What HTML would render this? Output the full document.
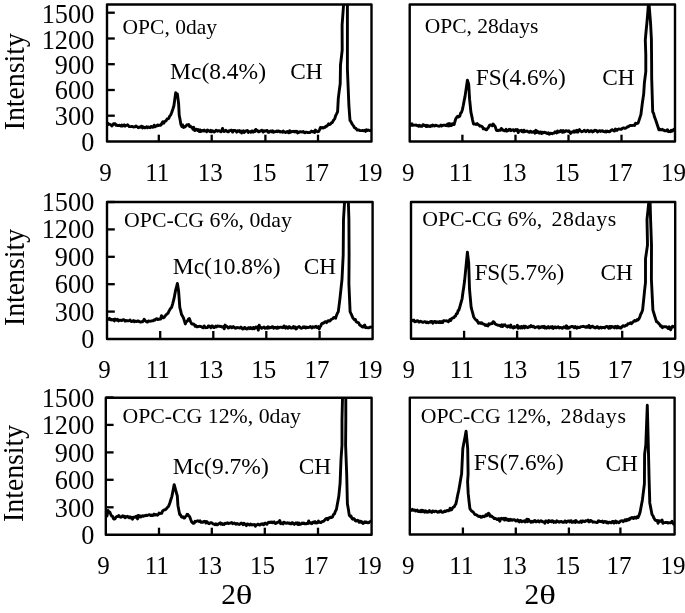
<!DOCTYPE html>
<html><head><meta charset="utf-8"><style>
html,body{margin:0;padding:0;background:#fff;width:685px;height:613px;overflow:hidden}
svg{display:block;will-change:transform;font-family:"Liberation Serif", serif;fill:#000}
</style></head><body>
<svg width="685" height="613" viewBox="0 0 685 613">
<rect width="685" height="613" fill="#fff"/>
<defs>
<clipPath id="c1"><rect x="107.0" y="4.5" width="264.5" height="137.0"/></clipPath>
<clipPath id="c2"><rect x="409.7" y="4.5" width="265.3" height="137.0"/></clipPath>
<clipPath id="c3"><rect x="107.0" y="202.0" width="265.6" height="137.0"/></clipPath>
<clipPath id="c4"><rect x="411.0" y="202.0" width="264.2" height="136.8"/></clipPath>
<clipPath id="c5"><rect x="105.8" y="397.7" width="265.8" height="137.0"/></clipPath>
<clipPath id="c6"><rect x="409.8" y="397.6" width="264.8" height="136.9"/></clipPath>
</defs>
<path d="M107.0,123.8 L107.8,123.2 L108.6,124.5 L109.4,124.1 L110.2,124.5 L111.0,124.8 L111.8,126.1 L112.7,125.1 L113.5,123.8 L114.3,123.7 L115.1,123.8 L115.9,125.3 L116.7,125.0 L117.5,125.5 L118.4,125.6 L119.2,125.2 L120.0,125.5 L120.9,126.1 L121.7,125.0 L122.6,126.1 L123.4,125.5 L124.2,124.9 L125.1,126.1 L125.9,125.4 L126.7,125.4 L127.6,124.8 L128.4,125.5 L129.2,126.6 L130.1,126.6 L130.9,126.6 L131.7,126.5 L132.5,126.5 L133.4,127.0 L134.2,126.9 L135.0,126.9 L135.9,126.0 L136.7,126.5 L137.5,126.9 L138.3,127.7 L139.2,127.3 L140.0,127.3 L140.8,126.6 L141.7,126.2 L142.5,128.0 L143.3,126.9 L144.2,127.8 L145.0,127.9 L145.8,127.2 L146.7,126.7 L147.5,127.8 L148.4,126.9 L149.2,127.4 L150.0,127.7 L150.9,126.5 L151.7,126.7 L152.5,127.4 L153.4,127.0 L154.2,125.2 L155.1,126.7 L155.9,126.1 L156.8,126.0 L157.6,125.0 L158.5,125.6 L159.3,125.1 L160.2,125.4 L161.0,125.0 L161.9,123.3 L162.8,121.7 L163.7,123.3 L164.6,121.5 L165.4,121.2 L166.2,120.7 L167.1,118.9 L167.9,118.8 L168.7,118.5 L169.7,116.1 L170.6,115.1 L171.6,112.7 L172.8,109.2 L173.9,105.7 L174.8,99.2 L175.7,92.8 L176.6,94.3 L177.4,94.0 L178.6,103.4 L179.2,115.0 L180.1,119.7 L180.9,124.4 L181.8,126.4 L182.6,124.9 L183.5,127.5 L184.4,126.8 L185.2,126.8 L186.1,125.7 L187.0,124.8 L187.9,125.1 L188.8,124.6 L189.6,126.5 L190.5,126.3 L191.3,127.1 L192.1,127.5 L192.9,129.2 L193.8,127.3 L194.7,130.6 L195.7,129.8 L196.6,129.2 L197.5,130.4 L198.3,129.5 L199.2,131.4 L200.0,129.9 L200.8,131.5 L201.7,130.6 L202.5,130.4 L203.3,131.0 L204.2,130.1 L205.0,131.1 L205.9,130.8 L206.7,131.6 L207.5,130.0 L208.4,130.6 L209.2,131.0 L210.0,131.6 L210.9,130.4 L211.7,131.7 L212.5,130.7 L213.4,131.4 L214.2,132.0 L215.0,131.5 L215.9,130.3 L216.7,130.4 L217.5,131.2 L218.4,130.7 L219.2,130.6 L220.0,131.2 L220.9,131.8 L221.7,131.1 L222.5,128.4 L223.4,130.7 L224.2,131.6 L225.0,131.1 L225.9,130.2 L226.7,131.0 L227.5,131.8 L228.4,131.9 L229.2,130.6 L230.0,130.7 L230.9,130.3 L231.7,130.2 L232.6,132.1 L233.4,130.4 L234.2,130.7 L235.1,130.4 L235.9,131.0 L236.7,132.1 L237.6,130.8 L238.4,131.3 L239.2,130.5 L240.1,132.0 L240.9,131.0 L241.7,132.9 L242.5,132.3 L243.4,130.8 L244.2,132.4 L245.0,131.8 L245.9,130.9 L246.7,131.1 L247.5,130.6 L248.3,132.4 L249.2,131.8 L250.0,131.5 L250.8,132.3 L251.7,131.0 L252.5,131.0 L253.3,132.1 L254.2,131.0 L255.0,131.4 L255.8,129.4 L256.7,130.7 L257.5,130.4 L258.3,131.7 L259.2,131.8 L260.0,131.0 L260.8,131.0 L261.6,130.2 L262.4,130.5 L263.2,132.1 L264.0,130.8 L264.8,131.3 L265.6,130.9 L266.4,130.6 L267.2,130.4 L268.0,132.2 L268.8,132.3 L269.6,132.0 L270.4,130.9 L271.2,130.9 L272.0,131.9 L272.8,130.8 L273.6,132.3 L274.4,131.8 L275.2,131.7 L276.0,131.5 L276.8,130.9 L277.6,131.7 L278.4,131.0 L279.2,131.2 L280.0,132.0 L280.8,131.5 L281.6,131.8 L282.4,132.2 L283.2,131.0 L284.0,132.0 L284.8,131.9 L285.6,132.5 L286.4,132.0 L287.2,131.5 L288.0,132.1 L288.8,132.8 L289.6,130.7 L290.4,132.3 L291.2,132.0 L292.0,131.4 L292.8,131.6 L293.6,131.3 L294.4,131.9 L295.2,131.2 L296.0,132.0 L296.8,131.3 L297.6,132.9 L298.4,132.6 L299.2,131.8 L300.0,132.0 L300.8,131.7 L301.6,132.0 L302.4,132.0 L303.3,131.4 L304.1,132.4 L304.9,132.8 L305.7,132.1 L306.5,132.2 L307.3,132.5 L308.1,132.5 L308.9,132.6 L309.8,132.6 L310.6,132.0 L311.4,131.1 L312.2,131.7 L313.0,132.0 L313.8,131.4 L314.6,132.5 L315.4,130.1 L316.3,131.0 L317.1,131.6 L317.9,131.7 L318.7,131.5 L319.5,129.8 L320.4,127.4 L321.3,128.0 L322.2,127.5 L323.2,128.1 L324.1,127.5 L325.0,127.4 L325.9,126.1 L326.8,126.3 L327.7,125.3 L328.6,123.9 L329.5,124.5 L330.4,124.2 L331.2,123.0 L332.1,122.7 L333.0,121.1 L333.8,119.9 L334.7,118.9 L335.7,115.5 L336.6,113.9 L337.6,111.6 L338.3,98.4 L339.2,91.1 L340.2,83.7 L340.5,64.7 L341.4,57.4 L342.2,50.0 L342.1,25.0 L343.6,4.5 L344.6,-12.8 L345.5,-30.0 L346.4,-12.8 L347.4,4.5 L347.4,69.0 L348.9,105.7 L350.0,120.4 L350.9,121.6 L351.9,123.7 L352.8,125.0 L353.7,126.2 L354.6,127.9 L355.5,128.1 L356.3,128.9 L357.2,130.0 L358.1,129.9 L358.9,130.0 L359.8,130.5 L360.6,130.6 L361.5,130.6 L362.3,130.5 L363.2,130.7 L364.0,130.6 L364.8,130.2 L365.6,131.4 L366.4,129.8 L367.2,130.6 L368.1,130.0 L368.9,130.4 L369.7,130.6 L370.5,130.5 L371.3,129.9" fill="none" stroke="#000" stroke-width="2.9" stroke-linejoin="round" clip-path="url(#c1)"/>
<rect x="107.0" y="4.5" width="264.5" height="137.0" fill="none" stroke="#000" stroke-width="2.4" stroke-linejoin="round"/>
<line x1="158.8" y1="141.5" x2="158.8" y2="134.7" stroke="#000" stroke-width="2.3"/>
<line x1="211.7" y1="141.5" x2="211.7" y2="134.7" stroke="#000" stroke-width="2.3"/>
<line x1="265.4" y1="141.5" x2="265.4" y2="134.7" stroke="#000" stroke-width="2.3"/>
<line x1="318.0" y1="141.5" x2="318.0" y2="134.7" stroke="#000" stroke-width="2.3"/>
<line x1="107.0" y1="115.7" x2="114.8" y2="115.7" stroke="#000" stroke-width="2.3"/>
<line x1="107.0" y1="90.0" x2="114.8" y2="90.0" stroke="#000" stroke-width="2.3"/>
<line x1="107.0" y1="64.2" x2="114.8" y2="64.2" stroke="#000" stroke-width="2.3"/>
<line x1="107.0" y1="38.5" x2="114.8" y2="38.5" stroke="#000" stroke-width="2.3"/>
<line x1="107.0" y1="12.7" x2="114.8" y2="12.7" stroke="#000" stroke-width="2.3"/>
<text x="94.3" y="151" text-anchor="end" font-size="26.3">0</text>
<text x="94.3" y="125" text-anchor="end" font-size="26.3">300</text>
<text x="94.3" y="99" text-anchor="end" font-size="26.3">600</text>
<text x="94.3" y="74" text-anchor="end" font-size="26.3">900</text>
<text x="94.3" y="49" text-anchor="end" font-size="26.3">1200</text>
<text x="94.3" y="23" text-anchor="end" font-size="26.3">1500</text>
<text transform="translate(24.2,81.75) rotate(-90) scale(0.925,1)" text-anchor="middle" font-size="30">Intensity</text>
<text x="105.5" y="181" text-anchor="middle" font-size="25">9</text>
<text x="157.3" y="181" text-anchor="middle" font-size="25">11</text>
<text x="210.2" y="181" text-anchor="middle" font-size="25">13</text>
<text x="263.9" y="181" text-anchor="middle" font-size="25">15</text>
<text x="316.5" y="181" text-anchor="middle" font-size="25">17</text>
<text x="370.0" y="181" text-anchor="middle" font-size="25">19</text>
<path d="M410.2,124.3 L411.1,125.3 L411.9,123.7 L412.8,125.3 L413.7,125.1 L414.5,125.1 L415.4,125.2 L416.3,125.0 L417.1,125.7 L418.0,125.4 L418.8,126.3 L419.6,125.3 L420.5,126.3 L421.3,126.3 L422.1,126.2 L422.9,124.8 L423.7,124.8 L424.6,125.5 L425.4,125.5 L426.2,126.5 L427.0,125.4 L427.8,126.4 L428.6,125.7 L429.5,126.3 L430.3,126.5 L431.1,125.6 L431.9,126.1 L432.7,125.1 L433.6,125.5 L434.4,126.1 L435.2,125.4 L436.0,125.2 L436.8,125.6 L437.6,125.8 L438.5,126.1 L439.3,126.2 L440.1,125.9 L440.9,125.0 L441.7,126.0 L442.6,125.4 L443.4,125.1 L444.2,125.3 L445.0,125.2 L445.9,125.5 L446.7,125.7 L447.5,124.1 L448.3,126.0 L449.2,123.5 L450.0,125.7 L450.8,124.1 L451.6,125.4 L452.5,123.8 L453.3,124.6 L454.1,124.5 L455.0,121.3 L455.8,118.8 L456.6,117.4 L457.7,116.2 L458.7,117.0 L459.8,116.1 L460.7,112.9 L461.5,112.4 L462.4,109.6 L463.3,105.3 L464.1,100.9 L465.0,96.6 L466.2,88.4 L467.4,80.2 L468.7,84.2 L469.6,99.2 L470.9,112.2 L471.8,116.1 L472.6,120.1 L473.5,124.0 L474.4,123.8 L475.3,124.2 L476.3,124.5 L477.2,123.6 L478.1,124.6 L479.1,125.2 L480.0,126.2 L480.8,126.0 L481.7,126.4 L482.5,127.0 L483.3,128.8 L484.1,128.4 L485.0,128.9 L485.8,129.7 L486.7,129.7 L487.7,128.2 L488.6,127.2 L489.6,125.2 L490.5,125.0 L491.4,124.9 L492.2,125.8 L493.1,124.1 L494.0,125.0 L495.2,126.6 L496.4,130.3 L497.2,130.5 L498.0,130.7 L498.8,130.1 L499.6,130.4 L500.4,130.3 L501.3,128.4 L502.1,129.3 L502.9,130.2 L503.7,130.1 L504.5,130.8 L505.3,130.9 L506.1,129.3 L506.9,131.1 L507.7,130.5 L508.5,130.6 L509.3,129.3 L510.1,129.5 L511.0,130.7 L511.8,129.9 L512.6,130.1 L513.4,129.7 L514.2,131.0 L515.0,130.3 L515.8,129.5 L516.6,130.4 L517.4,129.5 L518.2,132.6 L519.0,130.8 L519.8,130.7 L520.6,130.6 L521.4,130.2 L522.2,131.7 L523.0,132.0 L523.8,130.2 L524.6,131.8 L525.4,131.3 L526.2,131.3 L527.0,131.0 L527.8,131.5 L528.6,132.2 L529.4,132.4 L530.2,131.2 L531.0,131.4 L531.8,132.3 L532.6,132.0 L533.4,132.2 L534.3,131.3 L535.1,133.2 L535.9,130.3 L536.7,132.6 L537.6,131.4 L538.4,132.2 L539.2,133.2 L540.1,131.9 L540.9,131.9 L541.7,133.6 L542.5,132.3 L543.4,132.8 L544.2,132.1 L545.0,132.3 L545.9,132.6 L546.7,133.4 L547.5,133.5 L548.3,132.9 L549.2,134.3 L550.0,133.2 L550.8,133.5 L551.7,133.3 L552.5,133.7 L553.3,133.1 L554.2,133.0 L555.0,131.8 L555.8,132.0 L556.7,133.0 L557.5,130.9 L558.3,132.2 L559.2,131.9 L560.0,131.5 L560.8,130.5 L561.6,131.9 L562.4,132.3 L563.2,130.6 L564.0,132.0 L564.8,131.9 L565.7,130.8 L566.5,130.7 L567.3,131.2 L568.1,131.5 L568.9,130.7 L569.7,131.9 L570.5,133.4 L571.3,132.1 L572.1,132.0 L572.9,132.2 L573.7,130.9 L574.5,132.1 L575.3,130.7 L576.2,131.9 L577.0,130.3 L577.8,132.1 L578.6,130.5 L579.4,129.6 L580.2,130.9 L581.0,131.1 L581.8,131.8 L582.6,131.4 L583.5,131.2 L584.3,130.3 L585.1,130.7 L585.9,131.7 L586.7,130.9 L587.5,130.3 L588.4,130.9 L589.2,131.8 L590.0,131.4 L590.8,130.6 L591.6,130.6 L592.5,132.0 L593.3,131.7 L594.1,130.8 L594.9,130.3 L595.7,130.4 L596.6,130.7 L597.4,131.9 L598.2,131.4 L599.0,130.8 L599.8,130.6 L600.7,131.5 L601.5,130.8 L602.3,130.6 L603.1,131.4 L603.9,131.7 L604.7,131.9 L605.6,131.1 L606.4,132.0 L607.2,131.1 L608.0,131.5 L608.8,131.7 L609.7,131.7 L610.5,130.9 L611.3,130.2 L612.1,129.7 L612.9,130.0 L613.8,130.9 L614.6,131.0 L615.4,129.0 L616.2,129.5 L617.0,130.4 L617.8,129.4 L618.7,128.9 L619.5,129.1 L620.3,129.2 L621.2,129.3 L622.2,128.5 L623.1,127.9 L624.1,128.0 L625.0,128.4 L625.9,127.9 L626.7,127.4 L627.6,126.8 L628.5,126.7 L629.3,126.0 L630.2,125.4 L631.0,125.5 L631.9,125.6 L632.8,125.4 L633.7,125.1 L634.6,125.4 L635.5,123.2 L636.4,123.7 L637.3,123.4 L638.2,122.9 L639.1,120.1 L640.0,117.4 L640.9,114.6 L642.3,103.5 L643.7,93.8 L644.4,82.7 L645.8,71.6 L645.8,55.0 L645.3,40.0 L646.1,31.0 L647.0,22.0 L647.9,11.0 L648.7,0.0 L649.6,11.0 L650.5,22.0 L651.4,39.0 L651.6,60.0 L651.7,78.5 L652.7,111.8 L653.6,113.4 L654.5,117.0 L655.3,118.9 L656.2,121.5 L657.1,124.3 L658.0,127.0 L658.9,129.8 L659.8,129.2 L660.6,129.9 L661.5,129.9 L662.3,129.3 L663.2,130.2 L664.0,130.1 L664.9,130.8 L665.7,130.8 L666.6,130.5 L667.5,129.7 L668.4,131.7 L669.4,131.5 L670.3,131.7 L671.2,130.2 L672.1,131.2 L673.1,130.0 L674.0,129.2 L675.0,130.5" fill="none" stroke="#000" stroke-width="2.9" stroke-linejoin="round" clip-path="url(#c2)"/>
<rect x="409.7" y="4.5" width="265.3" height="137.0" fill="none" stroke="#000" stroke-width="2.4" stroke-linejoin="round"/>
<line x1="462.4" y1="141.5" x2="462.4" y2="134.7" stroke="#000" stroke-width="2.3"/>
<line x1="515.5" y1="141.5" x2="515.5" y2="134.7" stroke="#000" stroke-width="2.3"/>
<line x1="568.5" y1="141.5" x2="568.5" y2="134.7" stroke="#000" stroke-width="2.3"/>
<line x1="621.5" y1="141.5" x2="621.5" y2="134.7" stroke="#000" stroke-width="2.3"/>
<text x="408.2" y="181" text-anchor="middle" font-size="25">9</text>
<text x="460.9" y="181" text-anchor="middle" font-size="25">11</text>
<text x="514.0" y="181" text-anchor="middle" font-size="25">13</text>
<text x="567.0" y="181" text-anchor="middle" font-size="25">15</text>
<text x="620.0" y="181" text-anchor="middle" font-size="25">17</text>
<text x="673.5" y="181" text-anchor="middle" font-size="25">19</text>
<path d="M107.0,319.6 L107.8,319.1 L108.6,319.4 L109.4,318.3 L110.2,319.7 L111.0,319.2 L111.8,320.0 L112.7,319.7 L113.5,319.5 L114.3,320.9 L115.1,319.1 L115.9,319.5 L116.7,320.2 L117.5,319.3 L118.4,320.9 L119.2,320.5 L120.0,320.1 L120.9,320.3 L121.7,320.6 L122.6,319.8 L123.4,319.6 L124.2,320.1 L125.1,321.2 L125.9,320.5 L126.7,320.9 L127.6,320.6 L128.4,320.8 L129.2,320.6 L130.1,320.0 L130.9,321.3 L131.7,321.5 L132.5,321.3 L133.4,320.5 L134.2,321.7 L135.0,321.0 L135.9,321.5 L136.7,321.6 L137.5,320.9 L138.3,320.9 L139.2,321.7 L140.0,322.0 L140.8,322.1 L141.7,321.6 L142.5,321.8 L143.3,321.2 L144.2,319.2 L145.0,320.5 L145.8,321.2 L146.7,321.9 L147.5,322.1 L148.4,320.9 L149.2,321.1 L150.0,321.2 L150.9,321.1 L151.7,320.8 L152.6,320.6 L153.4,320.8 L154.3,319.8 L155.2,320.0 L156.1,318.8 L156.9,318.6 L157.8,319.6 L158.7,319.1 L159.6,319.2 L160.6,319.0 L161.5,315.7 L162.5,317.6 L163.4,317.9 L164.3,317.1 L165.3,315.7 L166.2,314.8 L167.2,313.7 L168.1,313.2 L169.0,311.0 L169.8,309.7 L170.7,308.3 L171.6,307.4 L172.8,303.3 L173.9,299.2 L174.8,294.5 L175.7,289.9 L176.6,286.6 L177.4,283.4 L178.6,291.0 L179.8,307.4 L180.7,310.9 L181.5,314.4 L182.5,316.1 L183.5,318.0 L184.4,320.9 L185.3,323.9 L186.1,322.0 L186.9,321.4 L187.7,320.6 L188.5,319.0 L189.3,318.6 L190.5,321.6 L191.7,323.9 L192.5,324.2 L193.4,324.0 L194.2,324.5 L195.0,326.2 L195.8,325.5 L196.7,326.7 L197.5,326.8 L198.3,326.5 L199.2,326.4 L200.0,326.3 L200.8,326.6 L201.7,326.6 L202.5,327.6 L203.3,327.8 L204.2,325.9 L205.0,327.3 L205.8,327.7 L206.7,327.6 L207.5,327.5 L208.3,326.0 L209.2,325.9 L210.0,326.8 L210.8,327.6 L211.7,325.9 L212.5,326.0 L213.3,327.3 L214.2,327.6 L215.0,326.8 L215.8,326.1 L216.7,326.9 L217.5,326.0 L218.4,326.2 L219.2,326.2 L220.0,326.5 L220.9,326.3 L221.7,327.0 L222.5,326.9 L223.4,326.6 L224.2,328.8 L225.1,325.1 L225.9,326.3 L226.7,326.3 L227.6,327.3 L228.4,328.1 L229.2,327.5 L230.1,326.7 L230.9,326.6 L231.8,327.8 L232.6,327.4 L233.4,326.6 L234.3,327.3 L235.1,328.1 L235.9,328.2 L236.7,327.5 L237.6,327.7 L238.4,327.6 L239.2,327.8 L240.1,328.0 L240.9,327.1 L241.7,327.9 L242.5,329.0 L243.4,328.9 L244.2,327.7 L245.0,327.5 L245.9,328.6 L246.7,329.0 L247.5,328.9 L248.3,327.7 L249.2,327.6 L250.0,328.6 L250.8,327.6 L251.7,328.7 L252.5,328.9 L253.3,327.4 L254.2,328.8 L255.0,328.2 L255.8,327.0 L256.7,327.8 L257.5,326.9 L258.3,330.2 L259.2,325.3 L260.0,327.4 L260.8,327.3 L261.6,328.3 L262.4,327.6 L263.2,327.5 L264.0,327.1 L264.8,328.2 L265.6,328.3 L266.4,327.5 L267.2,328.2 L268.0,326.7 L268.8,328.1 L269.6,327.3 L270.4,327.7 L271.2,327.5 L272.0,326.6 L272.8,326.6 L273.6,328.2 L274.4,327.4 L275.2,327.7 L276.0,327.5 L276.8,328.3 L277.6,326.9 L278.4,327.9 L279.2,327.4 L280.0,327.3 L280.8,327.3 L281.6,327.1 L282.4,327.7 L283.2,327.5 L284.0,325.9 L284.8,327.1 L285.6,328.2 L286.4,326.8 L287.2,327.7 L288.0,328.2 L288.8,326.8 L289.6,326.8 L290.4,327.7 L291.2,328.1 L292.0,328.0 L292.8,327.1 L293.6,326.5 L294.4,328.0 L295.2,327.0 L296.0,328.9 L296.8,328.4 L297.6,327.4 L298.4,326.8 L299.2,326.5 L300.0,327.3 L300.8,328.1 L301.6,328.2 L302.4,327.8 L303.2,326.8 L304.0,327.5 L304.8,326.8 L305.6,328.1 L306.4,327.3 L307.2,327.2 L308.0,327.6 L308.8,327.3 L309.6,327.4 L310.4,326.5 L311.2,327.4 L312.0,328.0 L312.8,326.8 L313.6,327.3 L314.4,327.4 L315.2,326.7 L316.0,326.2 L316.8,327.6 L317.6,327.5 L318.4,326.6 L319.2,329.0 L320.0,327.0 L320.8,325.9 L321.6,323.8 L322.4,323.2 L323.2,323.3 L324.0,322.6 L324.9,321.9 L325.7,321.6 L326.5,322.6 L327.3,321.8 L328.1,320.7 L328.9,320.7 L329.7,321.1 L330.5,320.2 L331.3,319.3 L332.1,319.1 L333.0,318.6 L333.8,317.4 L334.7,317.4 L335.6,318.2 L336.5,315.4 L337.4,313.2 L338.3,311.6 L339.8,299.9 L340.9,289.6 L342.0,279.3 L343.2,255.0 L343.5,219.5 L344.5,203.0 L345.5,176.5 L346.5,150.0 L347.4,176.5 L348.4,203.0 L348.9,219.5 L349.1,255.0 L348.9,283.7 L350.1,311.6 L351.0,313.7 L351.9,315.6 L352.8,317.8 L353.7,318.9 L354.5,319.9 L355.4,319.6 L356.2,321.8 L357.1,322.3 L357.9,322.5 L358.8,323.0 L359.6,324.8 L360.4,325.5 L361.3,325.8 L362.1,326.8 L363.0,327.0 L363.8,326.0 L364.7,325.0 L365.5,327.7 L366.3,327.2 L367.1,327.7 L367.9,327.9 L368.8,327.8 L369.6,327.2 L370.4,327.2 L371.2,327.1 L372.0,326.2" fill="none" stroke="#000" stroke-width="2.9" stroke-linejoin="round" clip-path="url(#c3)"/>
<rect x="107.0" y="202.0" width="265.6" height="137.0" fill="none" stroke="#000" stroke-width="2.4" stroke-linejoin="round"/>
<line x1="160.2" y1="339.0" x2="160.2" y2="331.0" stroke="#000" stroke-width="2.3"/>
<line x1="213.3" y1="339.0" x2="213.3" y2="331.0" stroke="#000" stroke-width="2.3"/>
<line x1="266.3" y1="339.0" x2="266.3" y2="331.0" stroke="#000" stroke-width="2.3"/>
<line x1="319.6" y1="339.0" x2="319.6" y2="331.0" stroke="#000" stroke-width="2.3"/>
<line x1="107.0" y1="311.6" x2="114.8" y2="311.6" stroke="#000" stroke-width="2.3"/>
<line x1="107.0" y1="284.2" x2="114.8" y2="284.2" stroke="#000" stroke-width="2.3"/>
<line x1="107.0" y1="256.8" x2="114.8" y2="256.8" stroke="#000" stroke-width="2.3"/>
<line x1="107.0" y1="229.4" x2="114.8" y2="229.4" stroke="#000" stroke-width="2.3"/>
<line x1="107.0" y1="202.0" x2="114.8" y2="202.0" stroke="#000" stroke-width="2.3"/>
<text x="94.3" y="348" text-anchor="end" font-size="26.3">0</text>
<text x="94.3" y="321" text-anchor="end" font-size="26.3">300</text>
<text x="94.3" y="293" text-anchor="end" font-size="26.3">600</text>
<text x="94.3" y="266" text-anchor="end" font-size="26.3">900</text>
<text x="94.3" y="238" text-anchor="end" font-size="26.3">1200</text>
<text x="94.3" y="211" text-anchor="end" font-size="26.3">1500</text>
<text transform="translate(24.2,277.50) rotate(-90) scale(0.925,1)" text-anchor="middle" font-size="30">Intensity</text>
<text x="104.5" y="378" text-anchor="middle" font-size="25">9</text>
<text x="157.7" y="378" text-anchor="middle" font-size="25">11</text>
<text x="210.8" y="378" text-anchor="middle" font-size="25">13</text>
<text x="263.8" y="378" text-anchor="middle" font-size="25">15</text>
<text x="317.1" y="378" text-anchor="middle" font-size="25">17</text>
<text x="370.1" y="378" text-anchor="middle" font-size="25">19</text>
<path d="M411.5,320.8 L412.3,320.3 L413.1,320.7 L413.9,320.1 L414.8,321.9 L415.6,321.7 L416.4,321.3 L417.2,320.6 L418.0,320.8 L418.9,322.1 L419.7,322.1 L420.5,321.2 L421.3,321.6 L422.1,322.1 L422.9,322.4 L423.8,321.9 L424.6,321.8 L425.4,321.7 L426.2,322.7 L427.0,322.0 L427.9,322.7 L428.7,322.7 L429.5,322.0 L430.3,322.2 L431.1,321.4 L432.0,321.4 L432.8,323.2 L433.6,322.5 L434.4,321.5 L435.2,321.4 L436.1,322.6 L436.9,321.7 L437.7,322.4 L438.5,322.5 L439.3,321.6 L440.1,322.7 L441.0,321.5 L441.8,322.6 L442.6,322.6 L443.4,320.7 L444.2,320.7 L445.0,320.9 L445.8,320.9 L446.7,320.8 L447.5,321.3 L448.3,321.7 L449.1,320.8 L449.9,319.4 L450.7,320.5 L451.6,318.7 L452.4,318.0 L453.2,317.9 L454.0,317.6 L454.8,316.1 L455.6,316.1 L456.4,313.8 L457.3,313.5 L458.1,310.6 L458.9,310.2 L459.7,307.4 L460.5,304.5 L461.3,301.6 L462.1,298.8 L462.9,292.8 L463.8,286.8 L464.6,280.8 L465.4,272.7 L466.4,262.4 L467.4,252.2 L468.7,262.9 L469.5,289.0 L470.3,297.9 L471.1,306.9 L471.9,310.2 L472.8,313.4 L473.6,316.7 L474.4,318.0 L475.2,319.1 L476.1,320.2 L476.9,320.2 L477.7,321.8 L478.5,323.3 L480.0,322.7 L480.9,323.4 L481.8,322.8 L482.6,323.8 L483.5,324.0 L484.4,324.4 L485.2,325.4 L486.1,324.7 L487.0,325.6 L487.9,325.9 L488.8,323.8 L489.6,324.4 L490.5,323.7 L491.4,323.7 L492.2,323.5 L493.1,321.7 L494.0,322.1 L494.9,323.6 L495.8,324.4 L496.6,324.6 L497.5,325.0 L498.3,325.4 L499.2,325.3 L500.0,325.7 L500.8,326.3 L501.7,324.7 L502.5,326.6 L503.3,324.9 L504.2,325.2 L505.0,324.8 L505.8,326.1 L506.7,326.1 L507.5,327.0 L508.3,325.8 L509.2,326.1 L510.0,327.3 L510.8,325.1 L511.7,327.2 L512.5,327.2 L513.3,328.0 L514.2,326.4 L515.0,327.4 L515.8,326.6 L516.6,326.9 L517.4,325.2 L518.2,328.3 L519.0,327.8 L519.8,326.7 L520.6,328.1 L521.4,326.4 L522.2,327.9 L523.0,327.0 L523.8,326.1 L524.6,327.9 L525.4,326.3 L526.2,326.8 L527.0,327.4 L527.8,327.7 L528.6,326.9 L529.4,326.5 L530.2,326.9 L531.0,325.5 L531.8,326.4 L532.6,326.8 L533.4,326.2 L534.3,327.3 L535.1,327.7 L535.9,327.1 L536.7,327.0 L537.6,327.2 L538.4,326.5 L539.2,328.0 L540.1,326.9 L540.9,327.4 L541.7,326.7 L542.5,326.5 L543.4,327.5 L544.2,326.4 L545.0,328.0 L545.9,327.0 L546.7,328.1 L547.5,327.4 L548.3,326.5 L549.2,328.0 L550.0,327.4 L550.8,326.8 L551.7,327.7 L552.5,326.6 L553.3,328.4 L554.2,327.4 L555.0,326.8 L555.8,327.7 L556.7,327.8 L557.5,326.9 L558.3,326.8 L559.2,327.9 L560.0,327.4 L560.8,327.5 L561.6,328.0 L562.4,328.3 L563.2,327.3 L564.0,326.9 L564.8,327.3 L565.6,328.0 L566.4,325.8 L567.2,328.3 L568.0,327.1 L568.8,328.2 L569.6,327.3 L570.4,327.3 L571.2,326.5 L572.0,326.5 L572.8,326.4 L573.6,327.5 L574.4,327.8 L575.2,326.4 L576.0,327.8 L576.8,328.2 L577.6,326.9 L578.4,327.6 L579.2,327.6 L580.0,327.3 L580.8,326.6 L581.6,326.6 L582.4,326.5 L583.2,326.3 L584.0,326.6 L584.8,326.7 L585.6,327.3 L586.4,326.6 L587.2,327.3 L588.0,326.9 L588.8,325.4 L589.6,327.7 L590.4,327.9 L591.2,326.5 L592.0,326.3 L592.8,326.3 L593.6,327.4 L594.4,327.2 L595.2,328.0 L596.0,327.7 L596.8,326.6 L597.6,326.7 L598.4,328.1 L599.2,328.2 L600.0,327.3 L600.8,327.1 L601.6,327.9 L602.4,327.5 L603.2,327.5 L604.0,327.3 L604.8,327.9 L605.6,326.8 L606.4,326.5 L607.2,326.4 L608.0,327.3 L608.8,328.2 L609.6,326.4 L610.4,328.0 L611.2,326.4 L612.0,327.0 L612.8,326.6 L613.6,327.3 L614.4,327.9 L615.2,326.4 L616.0,326.8 L616.8,328.1 L617.6,326.3 L618.4,326.7 L619.2,327.8 L620.0,327.3 L620.9,328.1 L621.7,327.2 L622.5,326.0 L623.4,325.6 L624.2,326.3 L625.1,326.1 L626.0,325.1 L627.0,325.3 L627.9,323.8 L628.9,323.7 L629.8,323.2 L630.6,322.7 L631.5,323.7 L632.3,322.6 L633.1,322.0 L633.9,321.1 L634.8,320.4 L635.6,321.0 L636.4,320.6 L637.2,319.5 L638.1,319.9 L638.9,318.9 L639.8,317.1 L640.8,314.0 L641.7,312.6 L642.6,310.1 L643.8,298.4 L644.6,290.4 L645.5,282.3 L645.5,258.8 L646.5,251.9 L647.5,245.0 L647.0,219.5 L648.0,209.8 L649.0,200.0 L649.5,180.0 L650.6,219.5 L651.5,245.0 L651.4,279.3 L652.9,310.1 L653.8,313.0 L654.7,316.0 L655.6,318.9 L656.5,321.8 L657.3,321.8 L658.2,323.0 L659.0,323.6 L659.9,324.8 L660.7,326.3 L661.6,326.0 L662.4,327.7 L663.2,327.0 L664.1,326.7 L664.9,326.9 L665.7,326.6 L666.6,327.1 L667.4,327.6 L668.2,328.4 L669.1,326.8 L669.9,328.2 L670.7,329.8 L671.6,327.5 L672.4,326.3 L673.2,326.4 L674.1,327.1 L674.9,327.0" fill="none" stroke="#000" stroke-width="2.9" stroke-linejoin="round" clip-path="url(#c4)"/>
<rect x="411.0" y="202.0" width="264.2" height="136.8" fill="none" stroke="#000" stroke-width="2.4" stroke-linejoin="round"/>
<line x1="464.1" y1="338.8" x2="464.1" y2="330.8" stroke="#000" stroke-width="2.3"/>
<line x1="517.1" y1="338.8" x2="517.1" y2="330.8" stroke="#000" stroke-width="2.3"/>
<line x1="570.2" y1="338.8" x2="570.2" y2="330.8" stroke="#000" stroke-width="2.3"/>
<line x1="622.2" y1="338.8" x2="622.2" y2="330.8" stroke="#000" stroke-width="2.3"/>
<text x="408.7" y="378" text-anchor="middle" font-size="25">9</text>
<text x="461.8" y="378" text-anchor="middle" font-size="25">11</text>
<text x="514.8" y="378" text-anchor="middle" font-size="25">13</text>
<text x="567.9" y="378" text-anchor="middle" font-size="25">15</text>
<text x="619.9" y="378" text-anchor="middle" font-size="25">17</text>
<text x="672.9" y="378" text-anchor="middle" font-size="25">19</text>
<path d="M106.0,510.0 L107.0,516.0 L108.0,510.5 L109.0,511.7 L110.0,512.5 L110.9,514.7 L111.8,516.1 L112.6,516.3 L113.5,518.8 L114.4,519.1 L115.2,518.5 L116.1,517.0 L117.0,516.5 L117.8,516.6 L118.6,515.6 L119.4,516.1 L120.2,517.1 L121.0,517.2 L121.8,516.9 L122.6,515.7 L123.4,516.7 L124.2,516.2 L125.1,517.8 L125.9,516.4 L126.7,516.9 L127.5,516.3 L128.4,517.3 L129.2,517.8 L130.0,516.8 L130.9,518.0 L131.7,517.3 L132.5,519.2 L133.3,517.2 L134.2,517.2 L135.0,517.3 L135.8,516.3 L136.7,516.1 L137.5,518.9 L138.3,515.4 L139.2,516.9 L140.0,515.8 L140.8,517.1 L141.7,516.4 L142.5,515.7 L143.4,516.3 L144.2,515.7 L145.0,515.7 L145.9,515.1 L146.7,515.6 L147.5,515.3 L148.3,515.0 L149.2,514.6 L150.0,515.0 L150.8,515.6 L151.6,514.9 L152.4,515.6 L153.3,515.3 L154.1,514.1 L154.9,515.0 L155.7,514.4 L156.6,514.8 L157.4,515.2 L158.2,514.6 L159.0,513.1 L159.9,513.6 L160.7,513.2 L161.6,513.3 L162.6,511.1 L163.5,510.2 L164.5,509.7 L165.4,509.7 L166.3,508.9 L167.2,507.7 L168.0,507.0 L168.9,505.6 L169.9,502.7 L170.8,499.8 L171.8,496.9 L173.0,490.8 L174.2,484.6 L175.1,487.8 L175.9,491.0 L177.3,495.8 L177.9,505.2 L178.8,509.9 L179.7,514.5 L180.5,514.7 L181.3,516.7 L182.2,517.2 L183.0,516.7 L183.8,518.0 L184.6,518.0 L185.4,516.6 L186.3,516.0 L187.1,514.3 L187.9,514.5 L188.8,515.9 L189.7,516.8 L190.7,519.5 L191.6,521.7 L192.5,522.7 L193.3,523.4 L194.2,523.1 L195.0,521.3 L195.9,521.7 L196.7,521.1 L197.6,520.8 L198.4,521.0 L199.2,521.5 L200.1,520.8 L200.9,522.3 L201.7,522.4 L202.6,522.4 L203.4,521.6 L204.2,521.3 L205.1,521.5 L205.9,523.0 L206.7,521.5 L207.6,522.4 L208.4,523.5 L209.2,523.7 L210.1,523.0 L210.9,522.6 L211.7,522.6 L212.6,523.6 L213.4,524.0 L214.2,524.1 L215.1,524.7 L215.9,523.9 L216.7,524.7 L217.6,524.8 L218.4,523.9 L219.2,523.5 L220.1,522.9 L220.9,524.2 L221.7,523.4 L222.6,524.4 L223.4,524.0 L224.2,524.5 L225.1,523.2 L225.9,523.6 L226.7,523.1 L227.6,522.8 L228.4,523.6 L229.2,523.4 L230.1,523.2 L230.9,522.8 L231.7,522.5 L232.6,523.7 L233.4,523.3 L234.2,523.0 L235.0,523.5 L235.8,524.3 L236.7,523.5 L237.5,523.7 L238.3,524.2 L239.1,524.5 L239.9,524.1 L240.7,523.6 L241.5,523.1 L242.3,523.7 L243.2,524.7 L244.0,523.3 L244.8,524.1 L245.6,524.5 L246.4,525.6 L247.2,523.9 L248.0,524.2 L248.8,524.7 L249.7,525.0 L250.5,524.1 L251.3,524.5 L252.1,525.0 L252.9,524.6 L253.7,524.9 L254.6,524.4 L255.4,526.3 L256.2,524.9 L257.0,524.8 L257.8,524.2 L258.7,524.5 L259.5,525.1 L260.3,524.8 L261.1,523.9 L261.9,524.3 L262.8,523.7 L263.6,524.8 L264.4,523.9 L265.2,523.1 L266.0,523.8 L266.8,524.3 L267.7,523.1 L268.5,522.3 L269.3,522.6 L270.1,522.1 L270.9,522.5 L271.8,521.9 L272.6,522.7 L273.4,522.6 L274.2,521.9 L275.0,523.3 L275.8,523.5 L276.6,523.2 L277.4,522.2 L278.2,522.4 L279.0,522.1 L279.8,520.5 L280.6,523.7 L281.4,522.9 L282.2,523.3 L283.0,524.0 L283.8,522.2 L284.6,522.5 L285.5,523.2 L286.3,523.4 L287.1,522.8 L287.9,522.9 L288.7,523.4 L289.5,522.9 L290.3,523.9 L291.1,523.9 L291.9,522.7 L292.7,522.8 L293.5,523.8 L294.3,524.4 L295.1,523.4 L295.9,522.8 L296.7,523.8 L297.5,522.9 L298.3,524.6 L299.1,523.1 L299.9,524.5 L300.7,524.2 L301.5,523.7 L302.3,522.9 L303.1,523.6 L303.9,523.1 L304.7,523.9 L305.5,523.8 L306.3,523.8 L307.1,523.3 L307.9,523.5 L308.7,521.0 L309.5,522.9 L310.3,523.2 L311.1,522.7 L311.9,523.6 L312.7,522.4 L313.5,522.0 L314.3,522.6 L315.1,521.6 L315.9,523.1 L316.7,522.4 L317.5,522.8 L318.4,521.1 L319.2,522.4 L320.0,522.3 L320.8,522.6 L321.6,521.9 L322.4,521.5 L323.4,521.3 L324.4,520.5 L325.2,519.4 L326.1,518.7 L326.9,518.4 L327.7,519.8 L328.6,518.0 L329.4,518.0 L330.4,517.2 L331.5,517.6 L332.5,516.8 L333.5,514.5 L334.4,514.0 L335.4,511.2 L336.4,509.5 L337.2,505.1 L338.0,500.7 L338.8,496.3 L340.1,483.1 L341.0,459.7 L342.0,445.0 L342.0,420.0 L342.5,398.0 L344.0,360.0 L344.9,379.0 L345.8,398.0 L345.8,420.0 L345.6,445.0 L346.7,474.3 L347.4,503.7 L348.4,509.5 L349.3,515.4 L350.1,516.3 L351.0,515.9 L351.8,518.3 L352.7,519.2 L353.5,518.5 L354.4,519.0 L355.2,520.5 L356.0,521.1 L356.8,520.9 L357.6,520.2 L358.4,521.2 L359.2,522.3 L360.0,521.1 L360.8,522.2 L361.6,521.6 L362.4,522.9 L363.2,523.5 L364.0,522.7 L364.8,521.7 L365.6,522.6 L366.4,522.0 L367.2,522.6 L368.0,522.8 L368.8,522.6 L369.6,521.8 L370.4,521.5 L371.2,520.9 L372.0,521.2" fill="none" stroke="#000" stroke-width="2.9" stroke-linejoin="round" clip-path="url(#c5)"/>
<rect x="105.8" y="397.7" width="265.8" height="137.0" fill="none" stroke="#000" stroke-width="2.4" stroke-linejoin="round"/>
<line x1="159.0" y1="534.7" x2="159.0" y2="527.7" stroke="#000" stroke-width="2.3"/>
<line x1="211.8" y1="534.7" x2="211.8" y2="527.7" stroke="#000" stroke-width="2.3"/>
<line x1="264.8" y1="534.7" x2="264.8" y2="527.7" stroke="#000" stroke-width="2.3"/>
<line x1="318.0" y1="534.7" x2="318.0" y2="527.7" stroke="#000" stroke-width="2.3"/>
<line x1="105.8" y1="507.3" x2="113.6" y2="507.3" stroke="#000" stroke-width="2.3"/>
<line x1="105.8" y1="479.8" x2="113.6" y2="479.8" stroke="#000" stroke-width="2.3"/>
<line x1="105.8" y1="452.4" x2="113.6" y2="452.4" stroke="#000" stroke-width="2.3"/>
<line x1="105.8" y1="424.9" x2="113.6" y2="424.9" stroke="#000" stroke-width="2.3"/>
<line x1="105.8" y1="397.5" x2="113.6" y2="397.5" stroke="#000" stroke-width="2.3"/>
<text x="94.3" y="544" text-anchor="end" font-size="26.3">0</text>
<text x="94.3" y="517" text-anchor="end" font-size="26.3">300</text>
<text x="94.3" y="489" text-anchor="end" font-size="26.3">600</text>
<text x="94.3" y="462" text-anchor="end" font-size="26.3">900</text>
<text x="94.3" y="434" text-anchor="end" font-size="26.3">1200</text>
<text x="94.3" y="407" text-anchor="end" font-size="26.3">1500</text>
<text transform="translate(23.2,473.40) rotate(-90) scale(0.925,1)" text-anchor="middle" font-size="30">Intensity</text>
<text x="103.5" y="574" text-anchor="middle" font-size="25">9</text>
<text x="156.7" y="574" text-anchor="middle" font-size="25">11</text>
<text x="209.5" y="574" text-anchor="middle" font-size="25">13</text>
<text x="262.5" y="574" text-anchor="middle" font-size="25">15</text>
<text x="315.7" y="574" text-anchor="middle" font-size="25">17</text>
<text x="369.3" y="574" text-anchor="middle" font-size="25">19</text>
<path d="M410.0,510.0 L410.8,510.7 L411.6,510.1 L412.4,509.3 L413.2,510.3 L414.0,510.2 L414.8,510.0 L415.6,511.0 L416.4,510.7 L417.2,510.1 L418.0,511.4 L418.8,511.5 L419.6,511.0 L420.4,511.7 L421.2,510.3 L422.0,511.7 L422.9,510.4 L423.7,511.5 L424.5,512.2 L425.3,510.7 L426.1,511.1 L426.9,512.2 L427.7,511.7 L428.5,512.1 L429.4,510.6 L430.2,511.7 L431.0,511.8 L431.8,512.4 L432.6,510.9 L433.4,511.3 L434.2,511.7 L435.0,511.2 L435.9,511.2 L436.7,511.5 L437.5,512.2 L438.3,511.7 L439.1,512.0 L439.9,511.1 L440.8,510.8 L441.6,512.1 L442.5,512.4 L443.3,512.2 L444.2,511.5 L445.0,510.9 L445.8,511.4 L446.7,510.7 L447.5,510.4 L448.4,510.9 L449.2,510.3 L450.1,508.3 L450.9,510.0 L451.7,509.6 L452.5,508.0 L453.4,507.1 L454.2,506.9 L455.0,505.1 L455.8,504.1 L456.8,499.6 L457.7,495.0 L458.7,490.5 L459.7,485.0 L460.6,479.5 L461.6,474.0 L462.8,448.7 L463.6,444.3 L464.5,439.9 L465.3,435.5 L466.1,431.1 L467.7,448.7 L468.1,474.0 L467.6,481.7 L468.2,493.4 L469.0,501.0 L469.9,508.6 L470.7,509.8 L471.5,510.9 L472.4,511.6 L473.2,512.0 L474.0,513.2 L474.9,514.5 L475.8,514.6 L476.6,515.0 L477.5,515.7 L478.4,516.4 L479.2,516.5 L480.1,516.2 L481.0,517.3 L481.8,517.1 L482.6,516.3 L483.5,516.2 L484.3,516.7 L485.1,516.1 L485.9,514.7 L486.7,515.8 L487.6,514.0 L488.4,513.2 L489.2,513.8 L490.0,516.3 L490.9,515.9 L491.7,516.2 L492.5,517.2 L493.3,517.4 L494.2,518.6 L495.0,518.5 L495.8,518.5 L496.6,519.2 L497.4,519.6 L498.2,518.7 L499.0,518.8 L499.8,521.2 L500.6,518.6 L501.4,518.3 L502.2,518.8 L503.0,519.1 L503.8,518.4 L504.6,520.1 L505.4,518.3 L506.2,518.6 L507.0,520.1 L507.8,519.2 L508.6,520.6 L509.4,520.2 L510.2,519.2 L511.0,520.3 L511.8,519.8 L512.6,520.2 L513.4,519.6 L514.3,519.7 L515.1,520.4 L515.9,521.0 L516.8,520.9 L517.6,519.8 L518.4,521.1 L519.3,521.9 L520.1,520.4 L520.9,520.7 L521.8,521.8 L522.6,521.2 L523.4,521.2 L524.3,520.7 L525.1,522.0 L525.9,521.4 L526.8,519.2 L527.6,521.7 L528.4,519.4 L529.3,520.8 L530.1,521.4 L530.9,522.2 L531.8,521.3 L532.6,522.1 L533.4,521.7 L534.2,520.6 L535.0,520.5 L535.9,521.9 L536.7,521.9 L537.5,521.0 L538.4,520.8 L539.2,522.0 L540.0,521.4 L540.8,520.8 L541.6,520.9 L542.4,521.9 L543.2,521.8 L544.0,522.0 L544.8,523.2 L545.6,520.9 L546.4,521.2 L547.2,521.1 L548.0,522.4 L548.8,520.5 L549.6,521.4 L550.4,521.0 L551.2,521.7 L552.0,520.7 L552.8,520.9 L553.6,522.4 L554.4,521.5 L555.2,522.3 L556.0,522.2 L556.8,520.8 L557.6,521.2 L558.4,521.7 L559.2,522.2 L560.0,521.5 L560.8,521.9 L561.6,521.4 L562.4,522.3 L563.2,522.3 L564.0,522.2 L564.8,521.0 L565.6,521.2 L566.4,522.4 L567.2,521.3 L568.0,521.0 L568.8,520.9 L569.6,522.0 L570.4,520.8 L571.2,520.6 L572.0,522.4 L572.8,522.3 L573.6,521.9 L574.4,521.0 L575.2,522.4 L576.0,520.6 L576.8,521.7 L577.6,522.1 L578.4,522.1 L579.2,522.4 L580.0,522.2 L580.8,520.9 L581.6,522.4 L582.4,521.0 L583.2,521.0 L584.0,521.5 L584.8,521.7 L585.6,520.8 L586.4,520.9 L587.2,520.8 L588.0,520.0 L588.8,521.8 L589.6,521.8 L590.4,520.5 L591.2,520.7 L592.0,521.2 L592.8,522.2 L593.6,522.0 L594.4,522.0 L595.2,522.1 L596.0,522.3 L596.8,522.5 L597.6,522.3 L598.4,520.8 L599.2,521.0 L600.0,521.5 L600.8,521.4 L601.7,521.8 L602.5,521.1 L603.3,522.4 L604.2,521.5 L605.0,522.0 L605.8,521.5 L606.6,522.8 L607.5,522.0 L608.3,523.0 L609.1,522.1 L609.9,522.1 L610.7,522.7 L611.5,522.7 L612.4,521.4 L613.2,521.5 L614.0,523.0 L614.8,522.4 L615.6,521.0 L616.4,522.7 L617.2,521.7 L618.1,522.3 L618.9,522.8 L619.7,522.0 L620.6,520.9 L621.5,520.9 L622.3,520.6 L623.2,521.7 L624.1,520.8 L625.0,519.7 L625.9,520.8 L626.7,519.5 L627.6,520.3 L628.5,519.0 L629.4,519.7 L630.2,518.3 L631.1,518.2 L632.0,517.4 L632.8,518.2 L633.7,518.6 L634.5,517.2 L635.4,517.6 L636.3,518.2 L637.1,516.8 L638.0,517.5 L639.1,515.2 L640.2,511.7 L641.3,505.8 L642.4,499.9 L643.4,491.9 L644.4,483.8 L644.6,454.4 L645.8,445.0 L647.3,405.3 L648.3,445.0 L649.1,479.4 L649.8,502.9 L650.9,508.8 L652.0,514.6 L652.9,515.6 L653.9,518.1 L654.8,519.6 L655.7,520.5 L656.5,520.5 L657.3,520.5 L658.1,523.3 L658.9,520.7 L659.7,521.4 L660.5,521.0 L661.3,521.4 L662.1,520.0 L662.9,523.3 L663.7,522.7 L664.5,522.6 L665.4,522.5 L666.2,522.4 L667.0,522.5 L667.9,523.1 L668.7,522.6 L669.5,522.9 L670.3,522.9 L671.2,522.4 L672.0,521.2 L672.8,523.1 L673.7,524.2 L674.5,522.0" fill="none" stroke="#000" stroke-width="2.9" stroke-linejoin="round" clip-path="url(#c6)"/>
<rect x="409.8" y="397.6" width="264.8" height="136.9" fill="none" stroke="#000" stroke-width="2.4" stroke-linejoin="round"/>
<line x1="462.9" y1="534.5" x2="462.9" y2="527.5" stroke="#000" stroke-width="2.3"/>
<line x1="515.8" y1="534.5" x2="515.8" y2="527.5" stroke="#000" stroke-width="2.3"/>
<line x1="568.9" y1="534.5" x2="568.9" y2="527.5" stroke="#000" stroke-width="2.3"/>
<line x1="620.4" y1="534.5" x2="620.4" y2="527.5" stroke="#000" stroke-width="2.3"/>
<text x="408.3" y="574" text-anchor="middle" font-size="25">9</text>
<text x="461.4" y="574" text-anchor="middle" font-size="25">11</text>
<text x="514.3" y="574" text-anchor="middle" font-size="25">13</text>
<text x="567.4" y="574" text-anchor="middle" font-size="25">15</text>
<text x="618.9" y="574" text-anchor="middle" font-size="25">17</text>
<text x="673.1" y="574" text-anchor="middle" font-size="25">19</text>
<text x="122.6" y="34.1" font-size="21.5">OPC, 0day</text>
<text x="170.1" y="78.6" font-size="23.5">Mc(8.4%)</text>
<text x="290.2" y="78.8" font-size="23.3">CH</text>
<text x="424.8" y="33.4" font-size="21.5">OPC, 28days</text>
<text x="475.8" y="84.9" font-size="23.3">FS(4.6%)</text>
<text x="602.3" y="84.8" font-size="23.3">CH</text>
<text x="124.1" y="226.6" font-size="21.8">OPC-CG 6%, 0day</text>
<text x="172.8" y="273.8" font-size="23.5">Mc(10.8%)</text>
<text x="303.8" y="273.8" font-size="23.3">CH</text>
<text x="422.2" y="226.4" font-size="21.8">OPC-CG 6%,</text>
<text x="474.4" y="279.5" font-size="23.3">FS(5.7%)</text>
<text x="600.4" y="279.5" font-size="23.3">CH</text>
<text x="122.4" y="423.1" font-size="21.8">OPC-CG 12%, 0day</text>
<text x="172.8" y="474.3" font-size="23.5">Mc(9.7%)</text>
<text x="298.7" y="474.3" font-size="23.3">CH</text>
<text x="420.7" y="423.1" font-size="21.8">OPC-CG 12%,</text>
<text x="473.8" y="470.3" font-size="23.3">FS(7.6%)</text>
<text x="605.5" y="470.6" font-size="23.3">CH</text>
<text x="551.4" y="226.4" font-size="21.8" textLength="64.8" lengthAdjust="spacing">28days</text>
<text x="560.6" y="423.1" font-size="21.8" textLength="65.3" lengthAdjust="spacing">28days</text>
<text x="221.2" y="603.6" font-size="29.3">2</text>
<text transform="translate(235.8,604.0) scale(1.23,1)" font-size="28.3">θ</text>
<text x="524.6" y="603.6" font-size="29.3">2</text>
<text transform="translate(539.2,604.0) scale(1.23,1)" font-size="28.3">θ</text>
</svg>
</body></html>
